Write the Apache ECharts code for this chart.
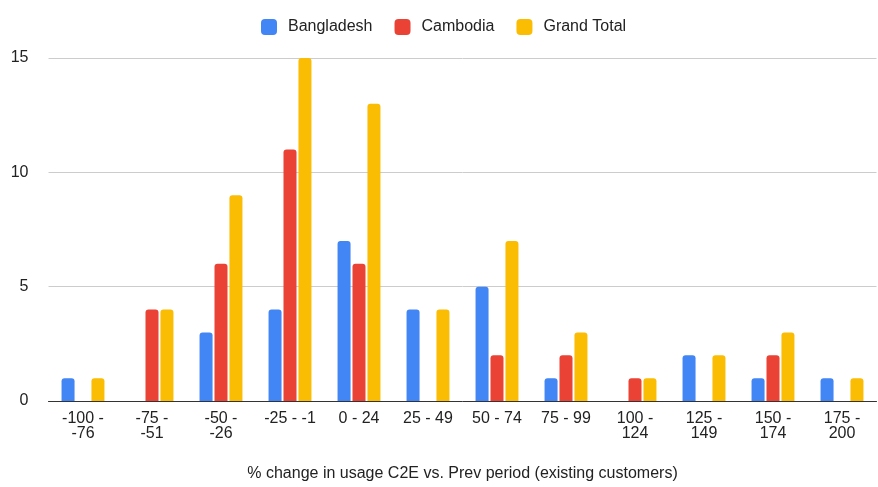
<!DOCTYPE html>
<html>
<head>
<meta charset="utf-8">
<script src="https://cdn.jsdelivr.net/npm/echarts@6/dist/echarts.min.js"></script>
<style>
  html, body { margin: 0; padding: 0; background: #fff; overflow: hidden; }
  #chart { width: 878px; height: 487px; }
</style>
</head>
<body>
<div id="chart"></div>
<script>
// Usage-change buckets (percent) and customer counts per bucket
const categories = ['-100 - -76', '-75 - -51', '-50 - -26', '-25 - -1', '0 - 24', '25 - 49',
  '50 - 74', '75 - 99', '100 - 124', '125 - 149', '150 - 174', '175 - 200'];
const bangladesh = [1, null, 3, 4, 7, 4, 5, 1, null, 2, 1, 1];
const cambodia   = [null, 4, 6, 11, 6, null, 2, 2, 1, null, 2, null];
const grandTotal = [1, 4, 9, 15, 13, 4, 7, 3, 1, 2, 3, 1];
const yTicks = { min: 0, max: 15, interval: 5 };

// Wrap long bucket labels onto two lines, like "-100 -\n-76"
function wrapLabel(s) {
  if (s.length <= 8) return s;
  const idx = s.indexOf(' - ');
  return s.slice(0, idx + 2) + '\n' + s.slice(idx + 3);
}

const font = 'Liberation Sans, Arial, sans-serif';
const chart = echarts.init(document.getElementById('chart'), null, { renderer: 'canvas' });

function barSeries(name, data, color) {
  return {
    name: name,
    type: 'bar',
    data: data,
    barWidth: 13,
    barGap: '15%',
    itemStyle: { color: color, borderRadius: [3, 3, 0, 0] }
  };
}

chart.setOption({
  animation: false,
  textStyle: { fontFamily: font },
  legend: {
    top: 14,
    left: 256,
    itemWidth: 16,
    itemHeight: 16,
    itemGap: 22,
    icon: 'roundRect',
    textStyle: { fontSize: 16, color: '#222', fontFamily: font, padding: [0, 0, 0, 6] },
    data: ['Bangladesh', 'Cambodia', 'Grand Total']
  },
  grid: { left: 48.5, right: 1.5, top: 58, bottom: 82 },
  xAxis: {
    type: 'category',
    data: categories,
    name: '% change in usage C2E vs. Prev period (existing customers)',
    nameLocation: 'middle',
    nameGap: 65,
    nameTextStyle: { fontSize: 16, color: '#222', fontFamily: font },
    axisLine: { lineStyle: { color: '#333', width: 1 } },
    axisTick: { show: false },
    axisLabel: {
      interval: 0,
      fontSize: 16,
      color: '#222',
      margin: 10,
      lineHeight: 15,
      fontFamily: font,
      formatter: wrapLabel
    }
  },
  yAxis: {
    type: 'value',
    min: yTicks.min,
    max: yTicks.max,
    interval: yTicks.interval,
    axisLine: { show: false },
    axisTick: { show: false },
    splitLine: { lineStyle: { color: '#cccccc', width: 1 } },
    axisLabel: { fontSize: 16, color: '#222', margin: 20, fontFamily: font }
  },
  series: [
    barSeries('Bangladesh', bangladesh, '#4285F4'),
    barSeries('Cambodia', cambodia, '#EA4335'),
    barSeries('Grand Total', grandTotal, '#FBBC04')
  ]
});
</script>
</body>
</html>
